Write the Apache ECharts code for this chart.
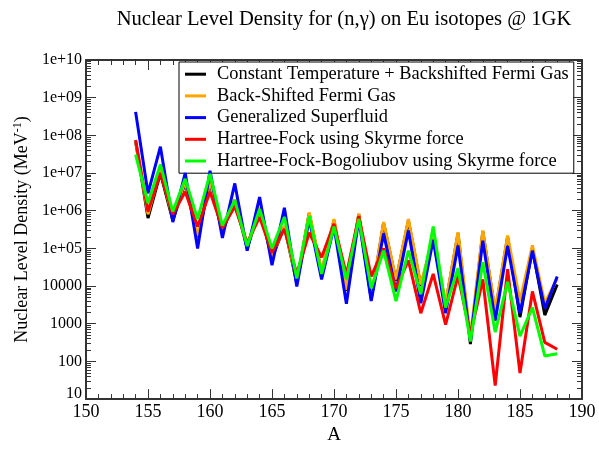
<!DOCTYPE html>
<html>
<head>
<meta charset="utf-8">
<script src="https://cdn.jsdelivr.net/npm/echarts@6/dist/echarts.min.js"></script>
<style>html,body{margin:0;padding:0;background:#fff}#c{width:599px;height:450px}</style>
</head>
<body>
<div id="c"></div>
<script>
var massNumbers = [154,155,156,157,158,159,160,161,162,163,164,165,166,167,168,169,170,171,172,173,174,175,176,177,178,179,180,181,182,183,184,185,186,187,188];
var ctBsfg = [7e7,6.4e5,1e7,5.5e5,5.5e6,2e5,5.5e6,2.8e5,1.9e6,1e5,1.1e6,5.5e4,3.8e5,1.2e4,8.5e5,2.3e4,5.5e5,7.5e3,8e5,4.5e3,4.7e5,1.4e4,5.5e5,1e4,1.9e5,3.2e3,2.5e5,2.9e2,2.8e5,2e3,2e5,1.5e3,1e5,1.7e3,1.1e4];
var bsfg = [7e7,8e5,1.2e7,6.5e5,6e6,2.1e5,6e6,3e5,2e6,1.1e5,1.2e6,6e4,4e5,1.3e4,9e5,2.5e4,6e5,8e3,8.5e5,5e3,5e5,1.5e4,6e5,1.1e4,2e5,3.5e3,2.7e5,4.5e2,3e5,2.2e3,2.2e5,4e3,1.2e5,3.5e3,1.6e4];
var gsm = [4.2e8,2.9e6,5e7,5e5,1e7,1e5,1.15e7,1.9e5,5.3e6,8.7e4,2.3e6,3.6e4,1.2e6,9.8e3,6e5,1.5e4,3.8e5,3.4e3,6e5,4e3,2.5e5,7.2e3,3e5,3.5e3,1.7e5,1.9e3,1.2e5,3.5e2,1.6e5,1.2e3,1.15e5,1.9e3,8.7e4,2.5e3,1.8e4];
var hfSkyrme = [7.5e7,9.5e5,1e7,8e5,3.2e6,3.8e5,3.2e6,3.5e5,1.3e6,1.4e5,6.8e5,7.7e4,3.3e5,2.1e4,2.6e5,5.8e4,4.5e5,2e4,7.2e5,1.8e4,1e5,8.7e3,4.8e4,1.9e3,2.1e4,9.4e2,1.9e4,5e2,1.5e4,23,2.8e4,49,7.2e3,3.2e2,2.1e2];
var hfbSkyrme = [3.1e7,1.6e6,1.7e7,9.5e5,7e6,6e5,9.5e6,4e5,1.9e6,1.15e5,1.1e6,1e5,6.8e5,1.6e4,7.2e5,2.1e4,3.8e5,1.5e4,6e5,8.7e3,8.7e4,4e3,8.7e4,6.1e3,3.8e5,2.7e3,3e4,3.4e2,4.3e4,6e2,1.3e4,4.7e2,2.7e3,1.4e2,1.6e2];
var seriesNames = ['Constant Temperature + Backshifted Fermi Gas','Back-Shifted Fermi Gas','Generalized Superfluid','Hartree-Fock using Skyrme force','Hartree-Fock-Bogoliubov using Skyrme force'];
var seriesColors = ['#000000','#ffa500','#0000ff','#ff0000','#00ff00'];
var yTickLabels = {10:'10',100:'100',1000:'1000',10000:'10000',1e5:'1e+05',1e6:'1e+06',1e7:'1e+07',1e8:'1e+08',1e9:'1e+09',1e10:'1e+10'};
var xMin = 150, xMax = 190, yMin = 10, yMax = 1e10;

var allData = [ctBsfg, bsfg, gsm, hfSkyrme, hfbSkyrme];
var serif = 'Liberation Serif, DejaVu Serif, serif';
var axisCol = '#333';

var chart = echarts.init(document.getElementById('c'), null, {renderer:'canvas'});
var series = allData.map(function(arr, i){
  return {
    name: seriesNames[i], type:'line', xAxisIndex:0, yAxisIndex:0,
    data: massNumbers.map(function(a, j){ return [a, arr[j]]; }),
    showSymbol:false, symbol:'none', z: 2+i,
    lineStyle:{color:seriesColors[i], width:3},
    itemStyle:{color:seriesColors[i]},
    emphasis:{disabled:true}, animation:false
  };
});

function xAxisCfg(pos, labels){
  return {
    type:'value', min:xMin, max:xMax, interval:5, position:pos,
    name: labels ? 'A' : '', nameLocation:'middle', nameGap:20,
    nameTextStyle:{fontFamily:serif, fontSize:19, color:'#000'},
    axisLine:{show:true, onZero:false, lineStyle:{color:axisCol, width:2}},
    axisTick:{show:true, inside:true, length:10, lineStyle:{color:axisCol, width:1}},
    minorTick:{show:true, splitNumber:5, length:5, lineStyle:{color:axisCol, width:1}},
    axisLabel:{show:labels, fontFamily:serif, fontSize:18, color:'#000', margin:4},
    splitLine:{show:false}, minorSplitLine:{show:false}
  };
}
function yAxisCfg(pos, labels){
  return {
    type:'log', logBase:10, min:yMin, max:yMax, position:pos,
    name: labels ? '{a|Nuclear Level Density (MeV}{s|-1}{a|)}' : '',
    nameLocation:'middle', nameGap:38,
    nameTextStyle:{fontFamily:serif, fontSize:18, color:'#000',
      rich:{a:{fontFamily:serif, fontSize:18, color:'#000'}, s:{fontFamily:serif, fontSize:12, color:'#000', verticalAlign:'top', padding:[0,0,8,0]}}},
    axisLine:{show:true, onZero:false, lineStyle:{color:axisCol, width:2}},
    axisTick:{show:true, inside:true, length:10, lineStyle:{color:axisCol, width:1}},
    minorTick:{show:true, splitNumber:9, length:5, lineStyle:{color:axisCol, width:1}},
    axisLabel:{show:labels, fontFamily:serif, fontSize:16, color:'#000', margin:4,
      formatter:function(v){ var r = Math.round(Math.log10(v)); var key = Math.pow(10, r); var t = yTickLabels[key] || String(v); return r===1 ? '{low|'+t+'}' : t; },
      rich:{low:{fontFamily:serif, fontSize:16, color:'#000', padding:[0,0,10,0]}}},
    splitLine:{show:false}, minorSplitLine:{show:false}
  };
}

chart.setOption({
  animation:false,
  backgroundColor:'#fff',
  title:{text:'Nuclear Level Density for (n,\u03b3) on Eu isotopes @ 1GK', left:339, textAlign:'center', top:4,
    textStyle:{fontFamily:serif, fontSize:20.6, fontWeight:'normal', color:'#000'}},
  grid:{left:86, top:60, width:496, height:352, containLabel:false},
  legend:{
    orient:'vertical', left:179, top:62, data:seriesNames,
    backgroundColor:'#fff', borderColor:'#000', borderWidth:1,
    padding:[3,5,3,6], itemGap:3.3, itemWidth:21, itemHeight:3, icon:'rect',
    textStyle:{fontFamily:serif, fontSize:18.4, lineHeight:18.4, color:'#000', padding:[0,0,0,6]},
    selectedMode:false
  },
  xAxis:[xAxisCfg('bottom', true), xAxisCfg('top', false)],
  yAxis:[yAxisCfg('left', true), yAxisCfg('right', false)],
  series: series
});
</script>
</body>
</html>
